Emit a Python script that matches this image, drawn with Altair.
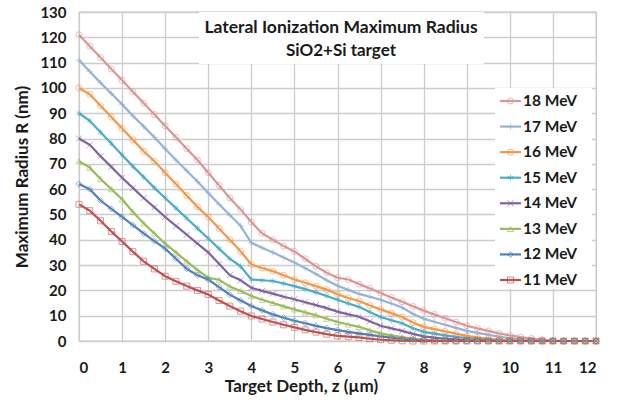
import altair as alt
import pandas as pd

Z = [0, 0.25, 0.5, 0.75, 1, 1.25, 1.5, 1.75, 2, 2.25, 2.5, 2.75, 3, 3.25, 3.5, 3.75,
     4, 4.25, 4.5, 4.75, 5, 5.25, 5.5, 5.75, 6, 6.25, 6.5, 6.75, 7, 7.25, 7.5, 7.75,
     8, 8.25, 8.5, 8.75, 9, 9.25, 9.5, 9.75, 10, 10.25, 10.5, 10.75, 11, 11.25, 11.5, 11.75, 12]

R18 = [121, 116.5, 112, 107.5, 103, 98.5, 94, 89.5, 85, 80.5, 76, 71.5, 66.5, 61.5, 56.5, 52,
       47, 42.5, 40, 37.5, 35.4, 32.5, 29.5, 27, 25, 24.3, 22.5, 20.8, 19, 17.2, 15.5, 13.7,
       12, 10.5, 9, 7.5, 6, 5, 4, 3, 2.2, 1.5, 1, 0.5, 0.2, 0, 0, 0, 0]
R17 = [111, 106.5, 102, 97.8, 93.5, 89, 84.8, 80.5, 76, 71.5, 67.3, 63, 58.5, 54, 49.8, 45.5,
       38.8, 36.8, 35, 33, 31, 28.8, 26.5, 24, 21.8, 20.2, 18.6, 17.5, 16.3, 14.8, 13.2, 10.8,
       8.8, 7.6, 6.4, 5.2, 4, 3.2, 2.4, 1.7, 1.1, 0.7, 0.4, 0.2, 0.1, 0, 0, 0, 0]
R16 = [100, 97.5, 93, 88.5, 84, 79.5, 75, 71, 66.5, 62, 57.5, 53, 49, 44.5, 40, 35.5,
       30.2, 28.8, 27.6, 26, 24.3, 23, 21.7, 20.3, 18.5, 17, 15.8, 14, 12.5, 11, 9.5, 7.3,
       5.6, 4.7, 3.8, 2.9, 2, 1.4, 0.9, 0.5, 0.3, 0.1, 0, 0, 0, 0, 0, 0, 0]
R15 = [90, 87, 82.5, 78, 73.5, 69, 64.8, 60.5, 56.5, 52.5, 48.5, 44.5, 40.5, 36.5, 32.5, 29.5,
       24.3, 24, 23.7, 22.7, 21.7, 20.5, 19.2, 17.8, 16.3, 14.8, 13.5, 11.5, 9.5, 8.2, 7, 5,
       3.6, 2.9, 2.2, 1.6, 1.1, 0.7, 0.4, 0.2, 0.1, 0, 0, 0, 0, 0, 0, 0, 0]
R14 = [80, 77.5, 73, 68.8, 64.5, 60.5, 56.5, 52.8, 49, 45.5, 42, 38.5, 35, 30.5, 26, 24,
       21, 19.8, 18.7, 17.5, 16.5, 15.3, 14.2, 13, 11.6, 10.5, 9.6, 7.8, 6, 5, 4, 2.8,
       1.8, 1.3, 0.9, 0.6, 0.3, 0.15, 0.05, 0, 0, 0, 0, 0, 0, 0, 0, 0, 0]
R13 = [71, 68.5, 64, 60, 56, 51, 46.5, 42.5, 38.5, 35, 31.5, 28, 25, 24.2, 21.5, 19.8,
       17.8, 16.3, 15, 13.7, 12.5, 11.3, 10.2, 8.8, 7.5, 6.5, 5.6, 4.2, 3, 2.2, 1.5, 1,
       0.5, 0.3, 0.1, 0, 0, 0, 0, 0, 0, 0, 0, 0, 0, 0, 0, 0, 0]
R12 = [62, 60, 55.5, 52.2, 49, 45.8, 42.5, 39.5, 36.5, 32.5, 28.5, 26, 24.3, 21.3, 18.3, 16,
       13.8, 12.1, 10.5, 9.2, 8, 7, 6, 5.1, 4.3, 3.6, 3, 2.4, 1.8, 1.3, 0.8, 0.5,
       0.2, 0.1, 0, 0, 0, 0, 0, 0, 0, 0, 0, 0, 0, 0, 0, 0, 0]
R11 = [54, 51.5, 47.5, 43.3, 39.3, 35.3, 31.5, 28.5, 25.6, 23.6, 21.7, 20, 18.4, 16, 13.8, 11.8,
       9.9, 8.7, 7.5, 6.4, 5.4, 4.4, 3.5, 2.7, 2, 1.7, 1.4, 0.9, 0.5, 0.3, 0.1, 0,
       0, 0, 0, 0, 0, 0, 0, 0, 0, 0, 0, 0, 0, 0, 0, 0, 0]

SERIES = ["18 MeV", "17 MeV", "16 MeV", "15 MeV", "14 MeV", "13 MeV", "12 MeV", "11 MeV"]
VALUES = [R18, R17, R16, R15, R14, R13, R12, R11]
COLORS = ["#D99694", "#95B3D7", "#F79646", "#4BACC6", "#8064A2", "#9BBB59", "#4F81BD", "#C0504D"]
SHAPES = ["circle", "M-1,0L1,0M0,-1L0,1", "circle",
          "M0,-1L0,1M-0.87,-0.5L0.87,0.5M-0.87,0.5L0.87,-0.5",
          "M-1,-1L1,1M-1,1L1,-1", "triangle-up", "diamond", "square"]

X_TICKS = list(range(0, 13))
Y_TICKS = list(range(0, 131, 10))
TITLE_LINES = ["Lateral Ionization Maximum Radius", "SiO2+Si target"]

rows = []
for name, vals in zip(SERIES, VALUES):
    for z, r in zip(Z, vals):
        rows.append({"z": z, "R": r, "series": name})
df = pd.DataFrame(rows)
ldf = pd.DataFrame({"series": SERIES})
tdf = pd.DataFrame({"t": [TITLE_LINES[0]]})

FONT = "Lato"
GRID = "#CCCCCC"
TXT = "#1a1a1a"

cscale = alt.Scale(domain=SERIES, range=COLORS)
sscale = alt.Scale(domain=SERIES, range=SHAPES)

x = alt.X("z:Q", scale=alt.Scale(domain=[0, 12], nice=False),
          axis=alt.Axis(values=X_TICKS, title="Target Depth, z (\u00b5m)", titleX=222, titleY=45,
                        titleBaseline="middle", labelPadding=19, format="d"))
y = alt.Y("R:Q", scale=alt.Scale(domain=[0, 130], nice=False),
          axis=alt.Axis(values=Y_TICKS, title="Maximum Radius R (nm)", titleX=-57,
                        titleBaseline="middle", labelPadding=13, format="d"))

lines = alt.Chart(df).mark_line(strokeWidth=2.2).encode(
    x=x, y=y, color=alt.Color("series:N", scale=cscale, legend=None),
    order=alt.Order("z:Q"),
)
points = alt.Chart(df).mark_point(filled=False, size=36, strokeWidth=1, opacity=0.6).encode(
    x=x, y=y,
    color=alt.Color("series:N", scale=cscale, legend=None),
    shape=alt.Shape("series:N", scale=sscale, legend=None),
)
data_layer = alt.layer(lines, points)

box = alt.Chart(tdf).mark_rect(color="white").encode(
    x=alt.value(120), x2=alt.value(405), y=alt.value(0), y2=alt.value(52)
)
t1 = alt.Chart(tdf).mark_text(font=FONT, fontSize=17.5, fontWeight="bold", color=TXT,
                              baseline="middle", align="center").encode(
    x=alt.value(262), y=alt.value(16), text=alt.value(TITLE_LINES[0]))
t2 = alt.Chart(tdf).mark_text(font=FONT, fontSize=17, fontWeight="bold", color=TXT,
                              baseline="middle", align="center").encode(
    x=alt.value(262), y=alt.value(39), text=alt.value(TITLE_LINES[1]))

# legend built as marks
ly = alt.Y("series:N", scale=alt.Scale(type="point", domain=SERIES, range=[89, 268], padding=0),
           axis=None)
lbox = alt.Chart(tdf).mark_rect(color="white").encode(
    x=alt.value(416), x2=alt.value(513), y=alt.value(76), y2=alt.value(277)
)
lrule = alt.Chart(ldf).mark_rule(strokeWidth=2.2).encode(
    x=alt.value(421), x2=alt.value(442), y=ly,
    color=alt.Color("series:N", scale=cscale, legend=None),
)
lpt = alt.Chart(ldf).mark_point(filled=False, size=36, strokeWidth=1, opacity=0.7).encode(
    x=alt.value(431.5), y=ly,
    color=alt.Color("series:N", scale=cscale, legend=None),
    shape=alt.Shape("series:N", scale=sscale, legend=None),
)
ltxt = alt.Chart(ldf).mark_text(font=FONT, fontSize=15.5, fontWeight="bold", color=TXT,
                                align="left", baseline="middle").encode(
    x=alt.value(444), y=ly, text="series:N",
)
legend_layer = alt.layer(lbox, lrule, lpt, ltxt)

chart = alt.layer(data_layer, box, t1, t2, legend_layer).resolve_scale(
    y="independent"
).properties(
    width=517, height=329,
    autosize=alt.AutoSizeParams(type="none"),
    padding={"left": 79, "top": 12, "right": 28, "bottom": 62},
    background="white",
).configure_view(stroke=GRID, strokeWidth=1.3).configure_axis(
    grid=True, gridColor=GRID, gridWidth=1.3, domain=False, ticks=False,
    labelFont=FONT, labelFontSize=15, labelFontWeight="bold", labelColor=TXT,
    titleFont=FONT, titleFontSize=17, titleFontWeight="bold", titleColor=TXT,
)

chart.save("out.html", embed_options={"renderer": "svg", "actions": False})
